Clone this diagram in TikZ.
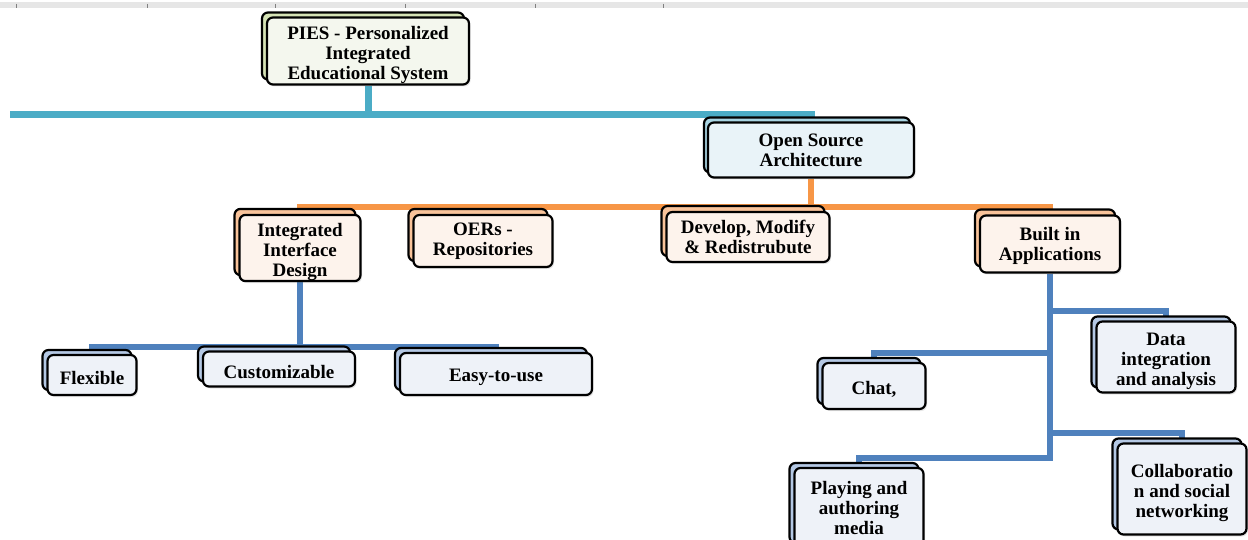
\documentclass[tikz,border=0pt]{standalone}
\usepackage{fontspec}
\setmainfont{Liberation Serif}
\usetikzlibrary{shadows,backgrounds}

\definecolor{rootback}{HTML}{D5E3B5}
\definecolor{rootfront}{HTML}{F4F7EE}
\definecolor{archback}{HTML}{A9D4E2}
\definecolor{archfront}{HTML}{E9F3F8}
\definecolor{featback}{HTML}{F9C39A}
\definecolor{featfront}{HTML}{FDF3EC}
\definecolor{leafback}{HTML}{B4C8E4}
\definecolor{leaffront}{HTML}{EEF2F8}
\definecolor{tealbus}{HTML}{4BACC6}
\definecolor{orangebus}{HTML}{F79646}
\definecolor{bluebus}{HTML}{4F81BD}
\definecolor{rulegray}{HTML}{E6E6E6}

% taller first line, pushes a block of lines a little down
\newcommand{\dropline}{\rule{0pt}{22pt}}

\begin{document}
\begin{tikzpicture}[x=1pt,y=-1pt]
        \tikzstyle{card} = [draw=black, line width=2.2pt, rounded corners=6pt, align=center, inner sep=0pt,
                            font=\bfseries\fontsize{19}{20}\selectfont,
                            execute at begin node={\rule{0pt}{20pt}},
                            drop shadow={opacity=0.2, shadow xshift=1.5pt, shadow yshift=-2pt}]
        \tikzstyle{rootcard} = [card, fill=rootfront, copy shadow={shadow xshift=-5pt, shadow yshift=5pt, fill=rootback, draw=black, line width=2.2pt}]
        \tikzstyle{archcard} = [card, fill=archfront, copy shadow={shadow xshift=-4pt, shadow yshift=5pt, fill=archback, draw=black, line width=2.2pt}]
        \tikzstyle{featcard} = [card, fill=featfront, copy shadow={shadow xshift=-5pt, shadow yshift=6pt, fill=featback, draw=black, line width=2.2pt}]
        \tikzstyle{leafcard} = [card, fill=leaffront, copy shadow={shadow xshift=-5pt, shadow yshift=5pt, fill=leafback, draw=black, line width=2.2pt}]
        \tikzstyle{tealline} = [draw=tealbus, line width=7pt]
        \tikzstyle{orangeline} = [draw=orangebus, line width=6pt]
        \tikzstyle{blueline} = [draw=bluebus, line width=6pt]

        \useasboundingbox (0,0) rectangle (1248,540);

        % ruler strip
        \fill[rulegray] (0,2) rectangle (1248,8);
        \foreach \x in {16,147,275,405,535,663}
            \draw[gray, line width=0.8pt] (\x,4) -- (\x,8);

        % root and architecture
        \node[rootcard, minimum width=202, minimum height=67] (pies) at (368,51) {\dropline PIES - Personalized\\Integrated\\Educational System};
        \node[archcard, minimum width=206, minimum height=55] (os) at (811,150) {Open Source\\Architecture};

        % second level
        \node[featcard, minimum width=121, minimum height=65] (iid) at (300,248) {\dropline Integrated\\Interface\\Design};
        \node[featcard, minimum width=139, minimum height=52] (oer) at (483,241) {OERs -\\Repositories};
        \node[featcard, minimum width=163, minimum height=50] (dev) at (748,237) {Develop, Modify\\\& Redistrubute};
        \node[featcard, minimum width=140, minimum height=57] (bia) at (1050,244) {\rule{0pt}{18pt}Built in\\Applications};

        % interface leaves
        \node[leafcard, minimum width=89, minimum height=40] (flex) at (92,375) {Flexible};
        \node[leafcard, minimum width=152, minimum height=35] (cust) at (279,369) {Customizable};
        \node[leafcard, minimum width=192, minimum height=42] (easy) at (496,374) {Easy-to-use};

        % application leaves
        \node[leafcard, minimum width=139, minimum height=71] (data) at (1166,357) {\dropline Data\\integration\\and analysis};
        \node[leafcard, minimum width=103, minimum height=46] (chat) at (874,386) {Chat,};
        \node[leafcard, minimum width=129, minimum height=91] (collab) at (1182,489) {\dropline Collaboratio\\n and social\\networking};
        \node[leafcard, minimum width=129, minimum height=80] (play) at (859,508) {Playing and\\authoring\\media};

        \begin{scope}[on background layer]
            % top bus
            \coordinate (tbus) at (10,115);
            \draw[tealline] (pies.south) -- (pies.south |- tbus);
            \draw[tealline] (tbus) -| (os.north);
            % architecture bus
            \coordinate (obus) at (0,207);
            \draw[orangeline] (os.south) -- (os.south |- obus);
            \foreach \c in {iid,oer,dev,bia}
                \draw[orangeline] (os.south |- obus) -| (\c.north);
            % interface bus
            \coordinate (lbus) at (0,347);
            \draw[blueline] (iid.south) -- (iid.south |- lbus);
            \foreach \c in {flex,cust,easy}
                \draw[blueline] (iid.south |- lbus) -| (\c.north);
            % application branches
            \foreach \c in {data,chat,collab,play}
                \draw[blueline] (bia.south) |- ([yshift=9pt]\c.north) -- (\c.north);
        \end{scope}

    \end{tikzpicture}
\end{document}
